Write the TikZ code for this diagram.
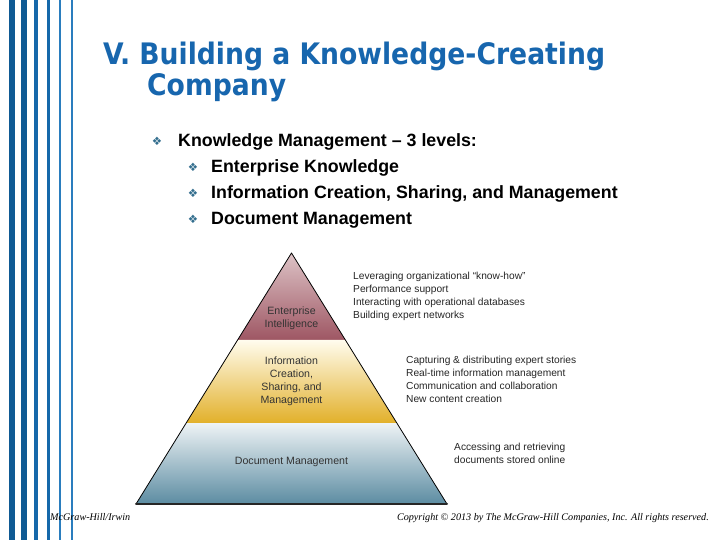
\documentclass[tikz,border=0pt]{standalone}
\usepackage{fontspec}
\setmainfont{Liberation Sans}
\newfontfamily\titlefont{DejaVu Sans Condensed}
\newfontfamily\symfont{DejaVu Sans}
\newfontfamily\footfont{Liberation Serif}
\usetikzlibrary{calc}
\definecolor{stripeA}{HTML}{0F5A94}
\definecolor{stripeB}{HTML}{1668AA}
\definecolor{stripeC}{HTML}{2A7DBE}
\definecolor{titleblue}{HTML}{1766AE}
\definecolor{bulletblue}{HTML}{336E8E}
\definecolor{topT}{HTML}{DDC3C6}
\definecolor{topB}{HTML}{9E5663}
\definecolor{midT}{HTML}{FFFCEE}
\definecolor{midB}{HTML}{E2B02A}
\definecolor{lowT}{HTML}{EEF3F5}
\definecolor{lowB}{HTML}{5C8CA2}
\tikzset{
  bul/.style={text=bulletblue,font=\symfont\fontsize{11.5}{11.5}\selectfont,anchor=base,inner sep=0},
  main/.style={anchor=base west,inner sep=0,font=\bfseries\fontsize{17.8}{20}\selectfont},
  side/.style={anchor=base west,inner sep=0,align=left,text=black!85,font=\fontsize{10.2}{13}\selectfont},
  lvl/.style={anchor=base,inner sep=0,align=center,text=black!80,font=\fontsize{10.6}{12.8}\selectfont},
  foot/.style={inner sep=0,font=\footfont\itshape\fontsize{10.15}{11}\selectfont},
  ttl/.style={anchor=base west,inner sep=0,text=titleblue,font=\titlefont\bfseries\fontsize{29.6}{31}\selectfont}
}
\begin{document}
\begin{tikzpicture}[x=1pt,y=-1pt,line cap=round,line join=round]
\useasboundingbox (0,0) rectangle (720,540);
\fill[white] (0,0) rectangle (720,540);
% stripes on the left
\foreach \a/\b/\c in {9/15/stripeA,21/27/stripeA,34/38/stripeB,47/50/stripeB,59/61/stripeC,71/72.5/stripeC}{\fill[\c] (\a,0) rectangle (\b,540);}
% title
\node[ttl] (title1) at (103,65) {V. Building a Knowledge-Creating};
\node[ttl] (title2) at (147,96) {Company};
% bullets
\node[bul] (b0) at (157,146) {❖};
\node[main] (t0) at (178,147) {Knowledge Management -- 3 levels:};
\foreach \y/\txt [count=\i] in {173/Enterprise Knowledge,199/{Information Creation, Sharing, and Management},225/Document Management}{
  \node[bul] (b\i) at (193,\y-1) {❖};
  \node[main] (t\i) at (211,\y) {\txt};
}
% pyramid
\coordinate (apex) at (291.5,253);
\coordinate (bl) at (136,504);
\coordinate (br) at (447,504);
\coordinate (l1) at ($(apex)!0.3466!(bl)$);
\coordinate (r1) at ($(apex)!0.3466!(br)$);
\coordinate (l2) at ($(apex)!0.6773!(bl)$);
\coordinate (r2) at ($(apex)!0.6773!(br)$);
\shade[top color=topT,bottom color=topB] (apex) -- (l1) -- (r1) -- cycle;
\shade[top color=midT,bottom color=midB] (l1) -- (l2) -- (r2) -- (r1) -- cycle;
\shade[top color=lowT,bottom color=lowB] (l2) -- (bl) -- (br) -- (r2) -- cycle;
\draw[line width=0.8pt] (bl) -- (apex) -- (br);
\draw[line width=2pt,black!85] (bl) -- (br);
\node[lvl] (ent) at (291.5,327) {Enterprise\\Intelligence};
\node[lvl] (info) at (291.5,403) {Information\\Creation,\\Sharing, and\\Management};
\node[lvl] (doc) at (291.5,464) {Document Management};
% side notes (anchored at the last line)
\node[side] (n1) at (353,318) {Leveraging organizational “know-how”\\Performance support\\Interacting with operational databases\\Building expert networks};
\node[side] (n2) at (406,402) {Capturing \& distributing expert stories\\Real-time information management\\Communication and collaboration\\New content creation};
\node[side] (n3) at (454,463) {Accessing and retrieving\\documents stored online};
% footer
\node[foot,anchor=base west] (f1) at (50,520) {McGraw-Hill/Irwin};
\node[foot,anchor=base east] (f2) at (709,520) {Copyright © 2013 by The McGraw-Hill Companies, Inc. All rights reserved.};
\end{tikzpicture}
\end{document}
